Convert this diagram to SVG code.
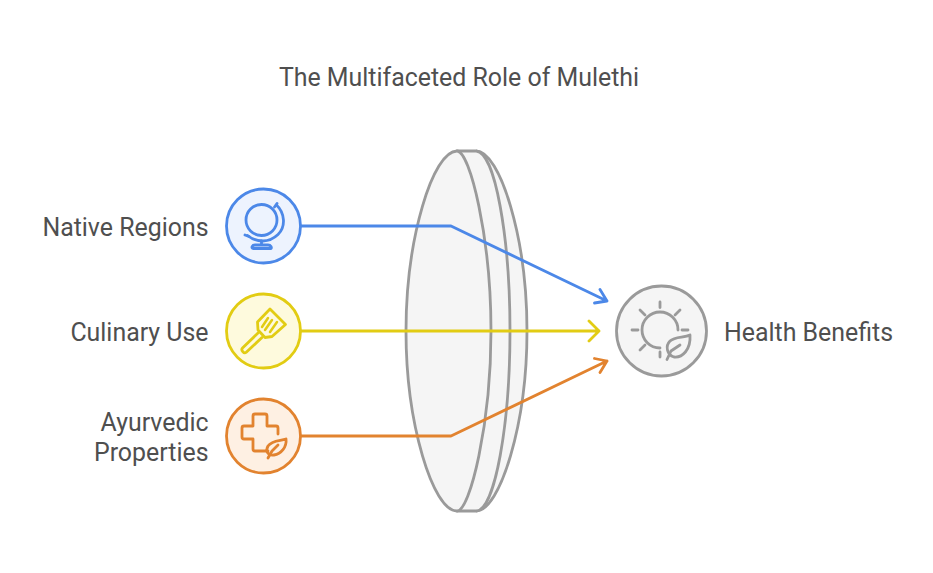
<svg xmlns="http://www.w3.org/2000/svg" width="933" height="573" viewBox="0 0 933 573">
<style>
text{font-family:Roboto,"Liberation Sans",sans-serif;font-size:24.900px;fill:#4f4f4f}
.g{fill:#f5f5f5;stroke:#9a9a9a;stroke-width:2.800;stroke-linejoin:round}
.i{fill:none;stroke-width:2.800;stroke-linecap:round;stroke-linejoin:round}
.c{fill:none;stroke-width:2.800;stroke-linecap:round;stroke-linejoin:round}
</style>
<rect width="933" height="573" fill="#fff"/>
<text x="459" y="85.500" text-anchor="middle">The Multifaceted Role of Mulethi</text>
<g id="lens">
<path class="g" d="M457 151H476C500 151 527 238 527 331S500 511 476 511H457Z"/>
<path class="g" d="M476 151C495 151 510 238 510 331S495 511 476 511"/>
<path class="g" d="M457 151C433 151 406 238 406 331S433 511 457 511C470 511 491 424 491 331S470 151 457 151Z"/>
</g>
<g id="connectors">
<path class="c" stroke="#4c88e8" d="M301 226H451L607 301M594.500 303L607 301L600 289.500"/>
<path class="c" stroke="#e2cc13" d="M301 331H599M589 321L599 331L589 341"/>
<path class="c" stroke="#e2832f" d="M301 436H451L607 361M600 372.500L607 361L594.500 358.500"/>
</g>
<g id="native-regions">
<circle cx="263.500" cy="226" r="37" fill="#edf3fe" stroke="#4c88e8" stroke-width="2.800"/>
<g class="i" stroke="#4c88e8">
<circle cx="261.500" cy="220" r="15.500"/>
<path d="M276.500 205C285 213 286 227 278 234.500C269 243 257 243 247.500 235.500"/>
<path d="M277 203.500L274.500 207M245 235L249 236.500"/>
<path d="M261.500 241V244"/>
<path d="M255 245H268C271 245 272 248 271 248.500H253C251 248 252 245 255 245Z"/>
</g>
<text x="208.500" y="235.500" text-anchor="end">Native Regions</text>
</g>
<g id="culinary-use">
<circle cx="263.500" cy="331" r="37" fill="#fefadd" stroke="#e2cc13" stroke-width="2.800"/>
<g class="i" stroke="#e2cc13">
<path d="M270 309L285.500 324.500L272 336.500L265 337.500L258 330L257.500 322Z"/>
<path d="M268 318L262 327M272 320L265 330M277 322L270 332" stroke-width="2.500"/>
<path d="M258 333L242.500 348C240.500 350 244 354 246 352.500L262 337.500"/>
</g>
<text x="208.500" y="340.500" text-anchor="end">Culinary Use</text>
</g>
<g id="ayurvedic-properties">
<circle cx="263.500" cy="436" r="37" fill="#fef0e3" stroke="#e2832f" stroke-width="2.800"/>
<g class="i" stroke="#e2832f">
<path d="M268 451H255Q253 451 253 449V439H244Q242 439 242 437V428Q242 426 244 426H253V416Q253 414 255 414H265Q267 414 267 416V426H276Q278 426 278 428V434"/>
<path d="M286 439C280 441 272 440 268 446C265 451 268 456 274 455C281 454 287 447 286 439Z"/>
<path d="M268 458L272 451L278 445"/>
</g>
<text x="208.500" y="430.500" text-anchor="end">Ayurvedic</text>
<text x="208.500" y="460.500" text-anchor="end">Properties</text>
</g>
<g id="health-benefits">
<circle cx="661.500" cy="331" r="45" fill="#f5f5f5" stroke="#9a9a9a" stroke-width="2.800"/>
<g class="i" stroke="#9a9a9a">
<path d="M660 348A18 18 0 1 1 678 330"/>
<path d="M660 302V307.500M640 310L645 315M632 330H638M640 350L645 345M660 352V357M680 310L675 315M682 330H688"/>
<path d="M690 335C684 338 675 336 670 341C665 346 667 355 674 357C682 358 691 350 690 335Z"/>
<path d="M667 359.500L671 351L680 345"/>
</g>
<text x="724" y="340.500">Health Benefits</text>
</g>
</svg>
